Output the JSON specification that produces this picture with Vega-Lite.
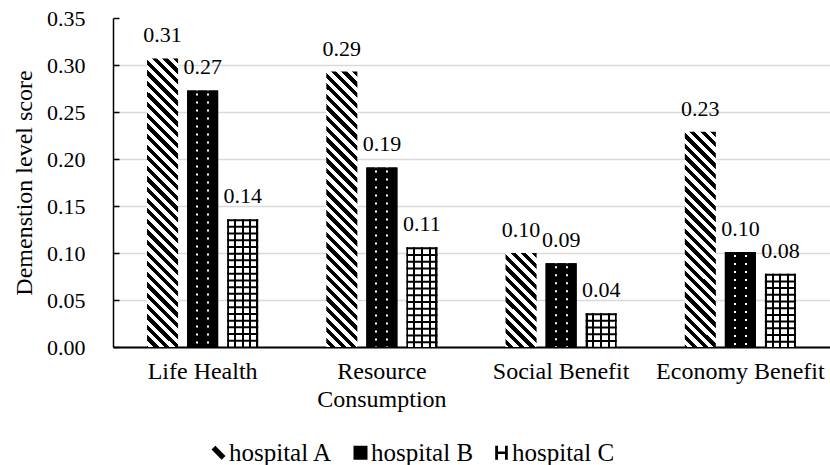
{
  "$schema": "https://vega.github.io/schema/vega-lite/v6.json",
  "width": 717,
  "height": 329,
  "autosize": {"type": "none"},
  "padding": {"left": 113, "top": 18, "right": 0, "bottom": 118},
  "background": "white",
  "config": {"font": "Liberation Serif", "view": {"stroke": null}},
  "params": [
    {"name": "stripes", "value": [
      {"offset":0,"color":"#000"},
      {"offset":0.0156,"color":"#000"},{"offset":0.0156,"color":"#fff"},
      {"offset":0.0313,"color":"#fff"},{"offset":0.0313,"color":"#000"},
      {"offset":0.0469,"color":"#000"},{"offset":0.0469,"color":"#fff"},
      {"offset":0.0625,"color":"#fff"},{"offset":0.0625,"color":"#000"},
      {"offset":0.0781,"color":"#000"},{"offset":0.0781,"color":"#fff"},
      {"offset":0.0938,"color":"#fff"},{"offset":0.0938,"color":"#000"},
      {"offset":0.1094,"color":"#000"},{"offset":0.1094,"color":"#fff"},
      {"offset":0.125,"color":"#fff"},{"offset":0.125,"color":"#000"},
      {"offset":0.1406,"color":"#000"},{"offset":0.1406,"color":"#fff"},
      {"offset":0.1563,"color":"#fff"},{"offset":0.1563,"color":"#000"},
      {"offset":0.1719,"color":"#000"},{"offset":0.1719,"color":"#fff"},
      {"offset":0.1875,"color":"#fff"},{"offset":0.1875,"color":"#000"},
      {"offset":0.2031,"color":"#000"},{"offset":0.2031,"color":"#fff"},
      {"offset":0.2188,"color":"#fff"},{"offset":0.2188,"color":"#000"},
      {"offset":0.2344,"color":"#000"},{"offset":0.2344,"color":"#fff"},
      {"offset":0.25,"color":"#fff"},{"offset":0.25,"color":"#000"},
      {"offset":0.2656,"color":"#000"},{"offset":0.2656,"color":"#fff"},
      {"offset":0.2813,"color":"#fff"},{"offset":0.2813,"color":"#000"},
      {"offset":0.2969,"color":"#000"},{"offset":0.2969,"color":"#fff"},
      {"offset":0.3125,"color":"#fff"},{"offset":0.3125,"color":"#000"},
      {"offset":0.3281,"color":"#000"},{"offset":0.3281,"color":"#fff"},
      {"offset":0.3438,"color":"#fff"},{"offset":0.3438,"color":"#000"},
      {"offset":0.3594,"color":"#000"},{"offset":0.3594,"color":"#fff"},
      {"offset":0.375,"color":"#fff"},{"offset":0.375,"color":"#000"},
      {"offset":0.3906,"color":"#000"},{"offset":0.3906,"color":"#fff"},
      {"offset":0.4063,"color":"#fff"},{"offset":0.4063,"color":"#000"},
      {"offset":0.4219,"color":"#000"},{"offset":0.4219,"color":"#fff"},
      {"offset":0.4375,"color":"#fff"},{"offset":0.4375,"color":"#000"},
      {"offset":0.4531,"color":"#000"},{"offset":0.4531,"color":"#fff"},
      {"offset":0.4688,"color":"#fff"},{"offset":0.4688,"color":"#000"},
      {"offset":0.4844,"color":"#000"},{"offset":0.4844,"color":"#fff"},
      {"offset":0.5,"color":"#fff"},{"offset":0.5,"color":"#000"},
      {"offset":0.5156,"color":"#000"},{"offset":0.5156,"color":"#fff"},
      {"offset":0.5313,"color":"#fff"},{"offset":0.5313,"color":"#000"},
      {"offset":0.5469,"color":"#000"},{"offset":0.5469,"color":"#fff"},
      {"offset":0.5625,"color":"#fff"},{"offset":0.5625,"color":"#000"},
      {"offset":0.5781,"color":"#000"},{"offset":0.5781,"color":"#fff"},
      {"offset":0.5938,"color":"#fff"},{"offset":0.5938,"color":"#000"},
      {"offset":0.6094,"color":"#000"},{"offset":0.6094,"color":"#fff"},
      {"offset":0.625,"color":"#fff"},{"offset":0.625,"color":"#000"},
      {"offset":0.6406,"color":"#000"},{"offset":0.6406,"color":"#fff"},
      {"offset":0.6563,"color":"#fff"},{"offset":0.6563,"color":"#000"},
      {"offset":0.6719,"color":"#000"},{"offset":0.6719,"color":"#fff"},
      {"offset":0.6875,"color":"#fff"},{"offset":0.6875,"color":"#000"},
      {"offset":0.7031,"color":"#000"},{"offset":0.7031,"color":"#fff"},
      {"offset":0.7188,"color":"#fff"},{"offset":0.7188,"color":"#000"},
      {"offset":0.7344,"color":"#000"},{"offset":0.7344,"color":"#fff"},
      {"offset":0.75,"color":"#fff"},{"offset":0.75,"color":"#000"},
      {"offset":0.7656,"color":"#000"},{"offset":0.7656,"color":"#fff"},
      {"offset":0.7813,"color":"#fff"},{"offset":0.7813,"color":"#000"},
      {"offset":0.7969,"color":"#000"},{"offset":0.7969,"color":"#fff"},
      {"offset":0.8125,"color":"#fff"},{"offset":0.8125,"color":"#000"},
      {"offset":0.8281,"color":"#000"},{"offset":0.8281,"color":"#fff"},
      {"offset":0.8438,"color":"#fff"},{"offset":0.8438,"color":"#000"},
      {"offset":0.8594,"color":"#000"},{"offset":0.8594,"color":"#fff"},
      {"offset":0.875,"color":"#fff"},{"offset":0.875,"color":"#000"},
      {"offset":0.8906,"color":"#000"},{"offset":0.8906,"color":"#fff"},
      {"offset":0.9063,"color":"#fff"},{"offset":0.9063,"color":"#000"},
      {"offset":0.9219,"color":"#000"},{"offset":0.9219,"color":"#fff"},
      {"offset":0.9375,"color":"#fff"},{"offset":0.9375,"color":"#000"},
      {"offset":0.9531,"color":"#000"},{"offset":0.9531,"color":"#fff"},
      {"offset":0.9688,"color":"#fff"},{"offset":0.9688,"color":"#000"},
      {"offset":0.9844,"color":"#000"},{"offset":0.9844,"color":"#fff"},
      {"offset":1,"color":"#fff"}
    ]}
  ],
  "data": {"values": [
    {"category": "Life Health", "hospital": "hospital A", "value": 0.307},
    {"category": "Life Health", "hospital": "hospital B", "value": 0.273},
    {"category": "Life Health", "hospital": "hospital C", "value": 0.136},
    {"category": "Resource Consumption", "hospital": "hospital A", "value": 0.293},
    {"category": "Resource Consumption", "hospital": "hospital B", "value": 0.191},
    {"category": "Resource Consumption", "hospital": "hospital C", "value": 0.106},
    {"category": "Social Benefit", "hospital": "hospital A", "value": 0.100},
    {"category": "Social Benefit", "hospital": "hospital B", "value": 0.089},
    {"category": "Social Benefit", "hospital": "hospital C", "value": 0.036},
    {"category": "Economy Benefit", "hospital": "hospital A", "value": 0.229},
    {"category": "Economy Benefit", "hospital": "hospital B", "value": 0.101},
    {"category": "Economy Benefit", "hospital": "hospital C", "value": 0.078}
  ]},
  "encoding": {
    "x": {
      "field": "category", "type": "nominal", "sort": null,
      "scale": {"domain": ["Life Health", "Resource Consumption", "Social Benefit", "Economy Benefit"], "paddingInner": 0, "paddingOuter": 0},
      "axis": {
        "title": null, "labelAngle": 0, "ticks": false, "labelFontSize": 24, "labelColor": "#000",
        "labelFont": "Liberation Serif", "labelPadding": 12, "domainColor": "#000", "domainWidth": 2,
        "labelLineHeight": 28, "grid": false,
        "labelExpr": "datum.label === 'Resource Consumption' ? ['Resource', 'Consumption'] : datum.label"
      }
    },
    "xOffset": {
      "field": "hospital", "type": "nominal",
      "scale": {"domain": ["hospital A", "hospital B", "hospital C"], "paddingInner": 0.225, "paddingOuter": 0.85}
    },
    "y": {
      "field": "value", "type": "quantitative",
      "scale": {"domain": [0, 0.35], "nice": false},
      "axis": {
        "title": "Demenstion level score", "format": ".2f",
        "values": [0, 0.05, 0.1, 0.15, 0.2, 0.25, 0.3, 0.35],
        "labelFontSize": 22, "labelColor": "#000", "labelFont": "Liberation Serif", "labelPadding": 34,
        "tickSize": -6, "tickColor": "#000", "tickWidth": 1.5,
        "domainColor": "#000", "domainWidth": 1.5,
        "grid": true,
        "gridColor": {"condition": {"test": "datum.value >= 0.34", "value": "transparent"}, "value": "#d9d9d9"},
        "gridWidth": 1.5,
        "titleFontSize": 24, "titleFontWeight": "normal", "titleColor": "#000", "titleFont": "Liberation Serif",
        "titlePadding": 10
      }
    }
  },
  "layer": [
    {
      "mark": {"type": "point", "filled": true, "size": 100, "color": "#000", "opacity": 1},
      "encoding": {
        "y": {"datum": 0.01},
        "shape": {
          "field": "hospital", "type": "nominal",
          "scale": {"domain": ["hospital A", "hospital B", "hospital C"], "range": [
            "M-1,-0.45L-0.45,-1L1,0.45L0.45,1Z",
            "M-1,-1H1V1H-1Z",
            "M-0.9,-1H-0.5V-0.18H0.5V-1H0.9V1H0.5V0.18H-0.5V1H-0.9Z"
          ]},
          "legend": {
            "orient": "none", "legendX": 93, "legendY": 422, "direction": "horizontal", "title": null,
            "symbolSize": 196, "symbolStrokeWidth": 0, "symbolFillColor": "#000",
            "labelFontSize": 25, "labelFont": "Liberation Serif", "labelColor": "#000",
            "columnPadding": 15, "labelOffset": -2, "padding": 0
          }
        }
      }
    },
    {
      "transform": [{"filter": "datum.hospital === 'hospital B'"}],
      "mark": {"type": "bar", "color": "#000"}
    },
    {
      "transform": [{"filter": "datum.hospital === 'hospital A'"}],
      "mark": {"type": "bar"},
      "encoding": {
        "fill": {
          "condition": [
            {"test": "datum.category === 'Life Health'", "value": {"expr": "{gradient: 'linear', x1: 1, y1: 0, x2: 0.8751, y2: 1.1626, stops: stripes}"}},
            {"test": "datum.category === 'Resource Consumption'", "value": {"expr": "{gradient: 'linear', x1: 1, y1: 0, x2: 0.863, y2: 1.217, stops: stripes}"}},
            {"test": "datum.category === 'Social Benefit'", "value": {"expr": "{gradient: 'linear', x1: 1, y1: 0, x2: -0.074, y2: 3.2566, stops: stripes}"}}
          ],
          "value": {"expr": "{gradient: 'linear', x1: 1, y1: 0, x2: 0.7776, y2: 1.5444, stops: stripes}"}
        }
      }
    },
    {
      "transform": [{"filter": "datum.hospital === 'hospital B'"}],
      "mark": {"type": "rule", "color": "#ffffff", "strokeWidth": 29, "strokeDash": [2, 6], "strokeDashOffset": 5},
      "encoding": {"y2": {"datum": 0}}
    },
    {
      "transform": [{"filter": "datum.hospital === 'hospital B'"}],
      "mark": {"type": "bar", "fill": {"gradient": "linear", "x1": 0, "y1": 0, "x2": 1, "y2": 0, "stops": [
        {"offset": 0, "color": "#000"}, {"offset": 0.29, "color": "#000"}, {"offset": 0.29, "color": "rgba(0,0,0,0)"},
        {"offset": 0.355, "color": "rgba(0,0,0,0)"}, {"offset": 0.355, "color": "#000"}, {"offset": 0.645, "color": "#000"},
        {"offset": 0.645, "color": "rgba(0,0,0,0)"}, {"offset": 0.71, "color": "rgba(0,0,0,0)"}, {"offset": 0.71, "color": "#000"},
        {"offset": 1, "color": "#000"}]}}
    },
    {
      "transform": [{"filter": "datum.hospital === 'hospital C'"}],
      "mark": {"type": "bar", "fill": {"gradient": "linear", "x1": 0, "y1": 0, "x2": 1, "y2": 0, "stops": [
        {"offset": 0, "color": "#000"}, {"offset": 0.065, "color": "#000"}, {"offset": 0.065, "color": "#fff"},
        {"offset": 0.218, "color": "#fff"}, {"offset": 0.218, "color": "#000"}, {"offset": 0.282, "color": "#000"},
        {"offset": 0.282, "color": "#fff"}, {"offset": 0.468, "color": "#fff"}, {"offset": 0.468, "color": "#000"},
        {"offset": 0.532, "color": "#000"}, {"offset": 0.532, "color": "#fff"}, {"offset": 0.718, "color": "#fff"},
        {"offset": 0.718, "color": "#000"}, {"offset": 0.782, "color": "#000"}, {"offset": 0.782, "color": "#fff"},
        {"offset": 0.935, "color": "#fff"}, {"offset": 0.935, "color": "#000"}, {"offset": 1, "color": "#000"}]}}
    },
    {
      "transform": [{"filter": "datum.hospital === 'hospital C'"}],
      "mark": {"type": "rule", "color": "#000000", "strokeWidth": 31, "strokeDash": [2, 4.7]},
      "encoding": {"y2": {"datum": 0}}
    },
    {
      "mark": {"type": "text", "fontSize": 22, "font": "Liberation Serif", "baseline": "middle", "dy": -23, "color": "#000"},
      "encoding": {"text": {"field": "value", "type": "quantitative", "format": ".2f"}}
    }
  ]
}
